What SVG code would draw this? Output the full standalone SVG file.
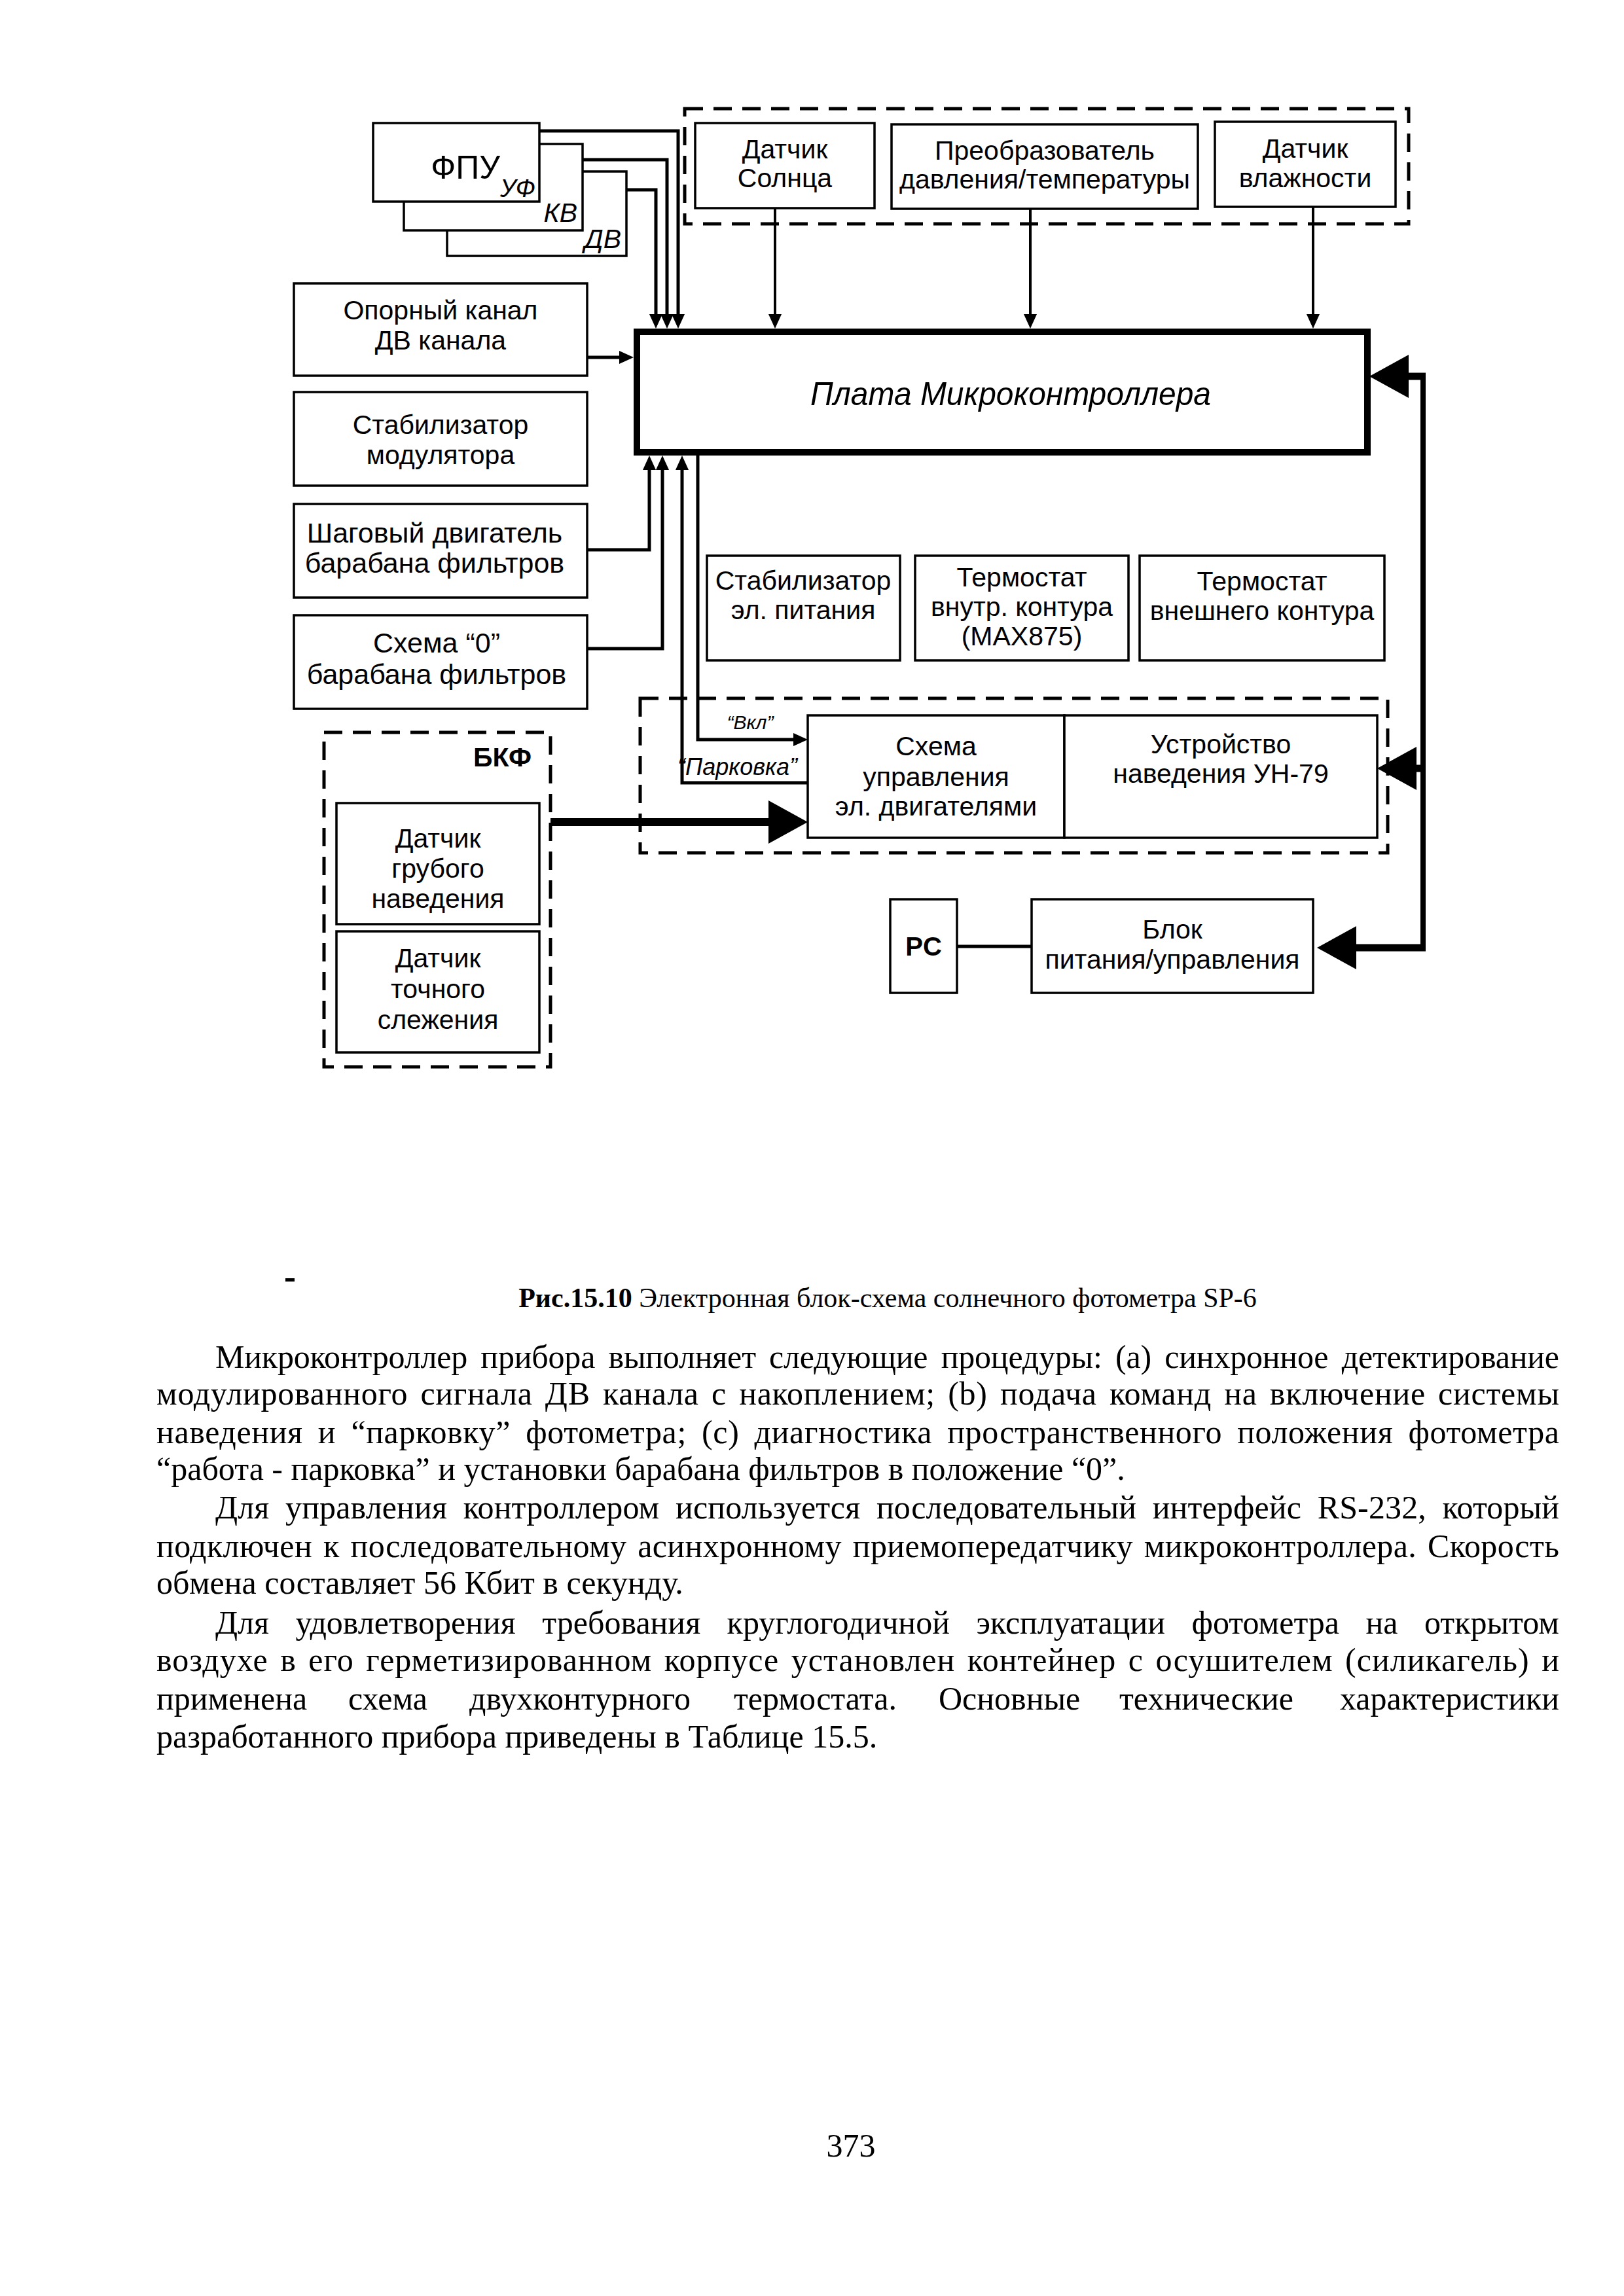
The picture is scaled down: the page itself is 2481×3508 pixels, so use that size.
<svg xmlns="http://www.w3.org/2000/svg" width="2481" height="3508" viewBox="0 0 2481 3508">
<defs>
<marker id="ah" markerUnits="userSpaceOnUse" viewBox="0 0 22 20" refX="0" refY="10" markerWidth="22" markerHeight="20" orient="auto"><path d="M0,0 L22,10 L0,20 z" fill="#000"/></marker>
<marker id="big" markerUnits="userSpaceOnUse" viewBox="0 0 60 66" refX="0" refY="33" markerWidth="60" markerHeight="66" orient="auto"><path d="M0,0 L60,33 L0,66 z" fill="#000"/></marker>
<style>
.box{fill:#fff;stroke:#000;stroke-width:3.5}
.dash{fill:none;stroke:#000;stroke-width:5;stroke-dasharray:28 16}
.t{font-family:"Liberation Sans",Arial,sans-serif;font-size:41px;text-anchor:middle;fill:#000}
.ti{font-style:italic}
.w{fill:none;stroke:#000;stroke-width:5}
.wt{fill:none;stroke:#000;stroke-width:4}
.wb{fill:none;stroke:#000;stroke-width:11}
.body{font-family:"Liberation Serif","Times New Roman",serif;font-size:50px;fill:#000}
</style>
</defs>
<rect width="2481" height="3508" fill="#fff"/>

<g id="connectors">
<path class="w" d="M824,200 H1036 V480" marker-end="url(#ah)"/>
<path class="w" d="M890,244 H1019 V480" marker-end="url(#ah)"/>
<path class="w" d="M957,290 H1002 V480" marker-end="url(#ah)"/>
<path class="wt" d="M1184,318 V480" marker-end="url(#ah)"/>
<path class="wt" d="M1574,319 V480" marker-end="url(#ah)"/>
<path class="wt" d="M2006,316 V480" marker-end="url(#ah)"/>
<path class="w" d="M897,546 H946" marker-end="url(#ah)"/>
<path class="w" d="M897,840 H992 V718" marker-end="url(#ah)"/>
<path class="w" d="M897,991 H1012 V718" marker-end="url(#ah)"/>
<path class="w" d="M1234,1196 H1042 V718" marker-end="url(#ah)"/>
<path class="w" d="M1066,696 V1130 H1212" marker-end="url(#ah)"/>
<path class="w" d="M1462,1446 H1576"/>
<path fill="none" stroke="#000" stroke-width="12" d="M841,1256 H1174" marker-end="url(#big)"/>
<path fill="none" stroke="#000" stroke-width="8" d="M2174,571 V1452"/>
<path class="wb" d="M2178,575 H2152" marker-end="url(#big)"/>
<path class="wb" d="M2178,1174 H2164" marker-end="url(#big)"/>
<path class="wb" d="M2178,1448 H2072" marker-end="url(#big)"/>
<text class="t ti" x="1146" y="1114" style="font-size:30px">“Вкл”</text>
<text class="t ti" x="1218" y="1184" style="font-size:36px;text-anchor:end">“Парковка”</text>
</g>

<g id="fpu">
<rect class="box" x="683" y="262" width="274" height="129"/>
<rect class="box" x="617" y="220" width="273" height="132"/>
<rect class="box" x="570" y="188" width="254" height="120"/>
<text class="t" x="764" y="273" style="font-size:50px;text-anchor:end">ФПУ</text>
<text class="t ti" x="764" y="301" style="font-size:38px;text-anchor:start">УФ</text>
<text class="t ti" x="882" y="339" style="text-anchor:end">КВ</text>
<text class="t ti" x="949" y="379" style="text-anchor:end">ДВ</text>
</g>

<g id="sensors-group">
<rect class="dash" x="1046" y="166" width="1106" height="176"/>
</g>
<g id="sun-sensor">
<rect class="box" x="1062" y="188" width="274" height="130"/>
<text class="t" x="1199" y="242">Датчик</text>
<text class="t" x="1199" y="286">Солнца</text>
</g>
<g id="pt-converter">
<rect class="box" x="1362" y="190" width="468" height="129"/>
<text class="t" x="1596" y="244">Преобразователь</text>
<text class="t" x="1596" y="288">давления/температуры</text>
</g>
<g id="humidity-sensor">
<rect class="box" x="1856" y="186" width="276" height="130"/>
<text class="t" x="1994" y="241">Датчик</text>
<text class="t" x="1994" y="286">влажности</text>
</g>

<g id="mcu-board">
<rect x="973" y="507" width="1116" height="184" fill="#fff" stroke="#000" stroke-width="10"/>
<text class="t ti" x="1544" y="619" style="font-size:50px" textLength="612" lengthAdjust="spacingAndGlyphs">Плата Микроконтроллера</text>
</g>

<g id="ref-channel">
<rect class="box" x="449" y="433" width="448" height="141"/>
<text class="t" x="673" y="488">Опорный канал</text>
<text class="t" x="673" y="534">ДВ канала</text>
</g>
<g id="mod-stabilizer">
<rect class="box" x="449" y="599" width="448" height="143"/>
<text class="t" x="673" y="663">Стабилизатор</text>
<text class="t" x="673" y="709">модулятора</text>
</g>
<g id="stepper">
<rect class="box" x="449" y="770" width="448" height="143"/>
<text class="t" x="664" y="829" style="font-size:43px">Шаговый двигатель</text>
<text class="t" x="664" y="875" style="font-size:43px">барабана фильтров</text>
</g>
<g id="zero-circuit">
<rect class="box" x="449" y="940" width="448" height="143"/>
<text class="t" x="667" y="997" style="font-size:43px">Схема “0”</text>
<text class="t" x="667" y="1045" style="font-size:43px">барабана фильтров</text>
</g>

<g id="power-stabilizer">
<rect class="box" x="1080" y="849" width="295" height="160"/>
<text class="t" x="1227" y="901">Стабилизатор</text>
<text class="t" x="1227" y="946">эл. питания</text>
</g>
<g id="inner-thermostat">
<rect class="box" x="1398" y="849" width="326" height="160"/>
<text class="t" x="1561" y="896">Термостат</text>
<text class="t" x="1561" y="941">внутр. контура</text>
<text class="t" x="1561" y="986">(MAX875)</text>
</g>
<g id="outer-thermostat">
<rect class="box" x="1741" y="849" width="374" height="160"/>
<text class="t" x="1928" y="902">Термостат</text>
<text class="t" x="1928" y="947">внешнего контура</text>
</g>

<g id="pointing-group">
<rect class="dash" x="978" y="1067" width="1142" height="236"/>
</g>
<g id="motor-control">
<rect class="box" x="1234" y="1093" width="392" height="187"/>
<text class="t" x="1430" y="1154">Схема</text>
<text class="t" x="1430" y="1201">управления</text>
<text class="t" x="1430" y="1246">эл. двигателями</text>
</g>
<g id="un79">
<rect class="box" x="1626" y="1093" width="478" height="187"/>
<text class="t" x="1865" y="1151">Устройство</text>
<text class="t" x="1865" y="1196">наведения УН-79</text>
</g>

<g id="bkf">
<rect class="dash" x="495" y="1119" width="346" height="511"/>
<text class="t" x="812" y="1171" font-weight="bold" style="text-anchor:end">БКФ</text>
</g>
<g id="coarse-sensor">
<rect class="box" x="514" y="1227" width="310" height="185"/>
<text class="t" x="669" y="1295">Датчик</text>
<text class="t" x="669" y="1341">грубого</text>
<text class="t" x="669" y="1387">наведения</text>
</g>
<g id="fine-sensor">
<rect class="box" x="514" y="1423" width="310" height="185"/>
<text class="t" x="669" y="1478">Датчик</text>
<text class="t" x="669" y="1525">точного</text>
<text class="t" x="669" y="1572">слежения</text>
</g>

<g id="pc">
<rect class="box" x="1360" y="1374" width="102" height="143"/>
<text class="t" x="1411" y="1460" font-weight="bold" style="font-size:40px">PC</text>
</g>
<g id="power-unit">
<rect class="box" x="1576" y="1374" width="430" height="143"/>
<text class="t" x="1791" y="1434">Блок</text>
<text class="t" x="1791" y="1480">питания/управления</text>
</g>

<g id="page-text">
<rect x="436" y="1953" width="14" height="5" fill="#000"/>
<text class="body" x="1356" y="1997" style="font-size:42px" text-anchor="middle"><tspan font-weight="bold">Рис.15.10</tspan> Электронная блок-схема солнечного фотометра SP-6</text>
<text class="body" x="329" y="2090" word-spacing="8" textLength="2053" lengthAdjust="spacing">Микроконтроллер прибора выполняет следующие процедуры: (a) синхронное детектирование</text>
<text class="body" x="239" y="2146" word-spacing="6" textLength="2143" lengthAdjust="spacing">модулированного сигнала ДВ канала с накоплением; (b) подача команд на включение системы</text>
<text class="body" x="239" y="2205" word-spacing="10" textLength="2143" lengthAdjust="spacing">наведения и “парковку” фотометра; (c) диагностика пространственного положения фотометра</text>
<text class="body" x="239" y="2261">“работа - парковка” и установки барабана фильтров в положение “0”.</text>
<text class="body" x="329" y="2320" word-spacing="12" textLength="2053" lengthAdjust="spacing">Для управления контроллером используется последовательный интерфейс RS-232, который</text>
<text class="body" x="239" y="2379" word-spacing="4" textLength="2143" lengthAdjust="spacing">подключен к последовательному асинхронному приемопередатчику микроконтроллера. Скорость</text>
<text class="body" x="239" y="2435">обмена составляет 56 Кбит в секунду.</text>
<text class="body" x="329" y="2496" word-spacing="28" textLength="2053" lengthAdjust="spacing">Для удовлетворения требования круглогодичной эксплуатации фотометра на открытом</text>
<text class="body" x="239" y="2553" word-spacing="5" textLength="2143" lengthAdjust="spacing">воздухе в его герметизированном корпусе установлен контейнер с осушителем (силикагель) и</text>
<text class="body" y="2612"><tspan x="239">применена</tspan><tspan x="532">схема</tspan><tspan x="717">двухконтурного</tspan><tspan x="1121">термостата.</tspan><tspan x="1434">Основные</tspan><tspan x="1710">технические</tspan></text>
<text class="body" x="2382" y="2612" text-anchor="end">характеристики</text>
<text class="body" x="239" y="2670">разработанного прибора приведены в Таблице 15.5.</text>
<text class="body" x="1300" y="3295" text-anchor="middle">373</text>
</g>
</svg>
